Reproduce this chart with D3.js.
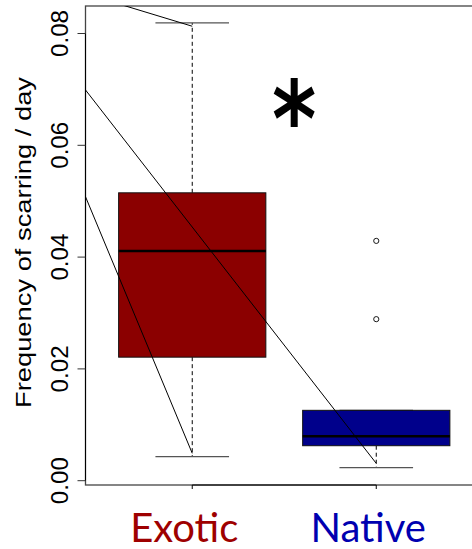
<!DOCTYPE html>
<html>
<head>
<meta charset="utf-8">
<script src="https://cdn.jsdelivr.net/npm/d3@7"></script>
<style>
  html, body { margin: 0; padding: 0; background: #fff; }
  svg { display: block; }
</style>
</head>
<body>
<svg id="chart" width="472" height="549"></svg>
<script>
// ---- data ----
const categories = ["Exotic", "Native"];
const lowerWhisker = [0.0043, 0.00233];
const q1 = [0.0221, 0.00626];
const median = [0.0411, 0.00794];
const q3 = [0.0515, 0.01259];
const upperWhisker = [0.0819, 0.01259];
const outliers = [[], [0.0289, 0.0429]];
const yTicks = [0.00, 0.02, 0.04, 0.06, 0.08];
const yTickLabels = ["0.00", "0.02", "0.04", "0.06", "0.08"];
// thin connecting lines: [x0, y0, x1, y1] in data units (group index 1-based, value)
const guideLines = [
  [0.42, 0.0871, 1, 0.0813],
  [0.42, 0.0699, 2, 0.0031],
  [0.42, 0.0508, 1, 0.0049]
];
const boxFill = ["#8B0000", "#00008B"];
const labelColor = ["#9E0000", "#0000B0"];
const yTitle = "Frequency of scarring / day";
const signif = "*";

// ---- layout ----
const svg = d3.select("#chart");
const plot = { left: 85.5, right: 483, top: 6, bottom: 485 };
const x = d3.scaleLinear().domain([0.42, 2.58]).range([plot.left, plot.right]);
const y = d3.scaleLinear().domain([-0.000769, 0.08492]).range([plot.bottom, plot.top]);
const unit = x(2) - x(1);
const boxW = unit * 0.8;
const capW = boxW * 0.5;

svg.append("defs").append("clipPath").attr("id", "clip")
  .append("rect")
  .attr("x", plot.left).attr("y", plot.top)
  .attr("width", plot.right - plot.left).attr("height", plot.bottom - plot.top);

// frame
svg.append("rect")
  .attr("x", plot.left).attr("y", plot.top)
  .attr("width", plot.right - plot.left).attr("height", plot.bottom - plot.top)
  .attr("fill", "none").attr("stroke", "#444").attr("stroke-width", 1.3);

const g = svg.append("g");
const groups = categories.map((c, i) => ({
  c, i, pos: i + 1,
  lw: lowerWhisker[i], q1: q1[i], med: median[i], q3: q3[i], uw: upperWhisker[i], out: outliers[i]
}));

// whiskers (dashed)
groups.forEach(d => {
  g.append("line")
    .attr("x1", x(d.pos)).attr("x2", x(d.pos))
    .attr("y1", y(d.q3)).attr("y2", y(d.uw))
    .attr("stroke", "#000").attr("stroke-width", 1).attr("stroke-dasharray", "4,3");
  g.append("line")
    .attr("x1", x(d.pos)).attr("x2", x(d.pos))
    .attr("y1", y(d.q1)).attr("y2", y(d.lw))
    .attr("stroke", "#000").attr("stroke-width", 1).attr("stroke-dasharray", "4,3");
  // caps
  [d.lw, d.uw].forEach(v => {
    g.append("line")
      .attr("x1", x(d.pos) - capW / 2).attr("x2", x(d.pos) + capW / 2)
      .attr("y1", y(v)).attr("y2", y(v))
      .attr("stroke", "#555").attr("stroke-width", 1.2);
  });
  // box
  g.append("rect")
    .attr("x", x(d.pos) - boxW / 2).attr("width", boxW)
    .attr("y", y(d.q3)).attr("height", y(d.q1) - y(d.q3))
    .attr("fill", boxFill[d.i]).attr("stroke", "#111").attr("stroke-width", 1);
  // median
  g.append("line")
    .attr("x1", x(d.pos) - boxW / 2).attr("x2", x(d.pos) + boxW / 2)
    .attr("y1", y(d.med)).attr("y2", y(d.med))
    .attr("stroke", "#000").attr("stroke-width", 2.6);
  // outliers
  d.out.forEach(v => {
    g.append("circle")
      .attr("cx", x(d.pos)).attr("cy", y(v)).attr("r", 2.6)
      .attr("fill", "none").attr("stroke", "#000").attr("stroke-width", 0.9);
  });
});

// guide lines
svg.append("g").attr("clip-path", "url(#clip)")
  .selectAll("line").data(guideLines).join("line")
  .attr("x1", d => x(d[0])).attr("y1", d => y(d[1]))
  .attr("x2", d => x(d[2])).attr("y2", d => y(d[3]))
  .attr("stroke", "#000").attr("stroke-width", 1);

// y axis
const yAxis = svg.append("g");
yAxis.append("line")
  .attr("x1", plot.left).attr("x2", plot.left)
  .attr("y1", y(yTicks[0])).attr("y2", y(yTicks[yTicks.length - 1]))
  .attr("stroke", "#000").attr("stroke-width", 1);
yTicks.forEach((v, i) => {
  yAxis.append("line")
    .attr("x1", plot.left - 8).attr("x2", plot.left)
    .attr("y1", y(v)).attr("y2", y(v))
    .attr("stroke", "#333").attr("stroke-width", 1);
  yAxis.append("text")
    .attr("transform", `translate(68,${y(v)}) rotate(-90)`)
    .attr("text-anchor", "middle")
    .attr("font-family", "Liberation Sans, Arial, sans-serif")
    .attr("font-size", 23)
    .attr("textLength", 47).attr("lengthAdjust", "spacingAndGlyphs")
    .text(yTickLabels[i]);
});

// x axis
const xAxis = svg.append("g");
xAxis.append("line")
  .attr("x1", x(1)).attr("x2", x(2))
  .attr("y1", plot.bottom).attr("y2", plot.bottom)
  .attr("stroke", "#000").attr("stroke-width", 1.2);
groups.forEach(d => {
  xAxis.append("line")
    .attr("x1", x(d.pos)).attr("x2", x(d.pos))
    .attr("y1", plot.bottom).attr("y2", plot.bottom + 4)
    .attr("stroke", "#000").attr("stroke-width", 1);
  xAxis.append("text")
    .attr("x", x(d.pos) - 8).attr("y", 541.5)
    .attr("text-anchor", "middle")
    .attr("font-family", "Lato, 'Open Sans', sans-serif")
    .attr("font-size", 40)
    .attr("fill", labelColor[d.i])
    .text(d.c);
});

// y title
svg.append("text")
  .attr("transform", `translate(31,242.5) rotate(-90)`)
  .attr("text-anchor", "middle")
  .attr("font-family", "Liberation Sans, Arial, sans-serif")
  .attr("font-size", 22)
  .attr("textLength", 331).attr("lengthAdjust", "spacingAndGlyphs")
  .text(yTitle);

// significance star
svg.append("text")
  .attr("transform", `translate(${(x(1) + x(2)) / 2 + 10},156) scale(0.8,1)`)
  .attr("text-anchor", "middle")
  .attr("font-family", "'DejaVu Sans', sans-serif")
  .attr("font-weight", "bold")
  .attr("font-size", 106)
  .text(signif);
</script>
</body>
</html>
